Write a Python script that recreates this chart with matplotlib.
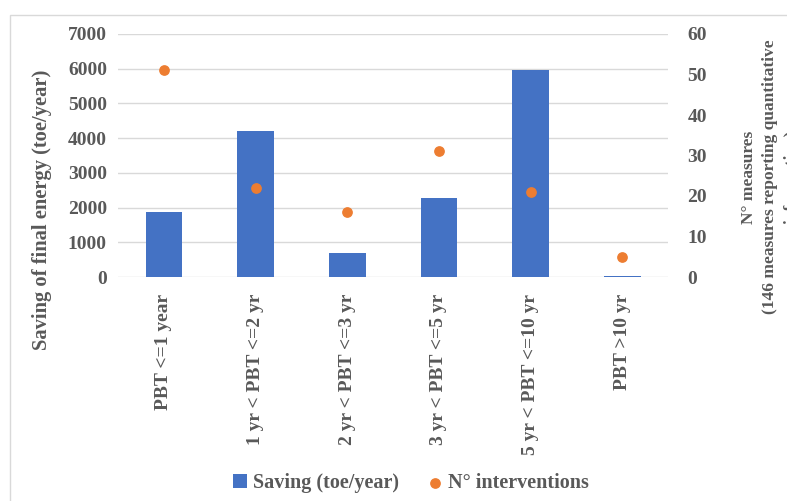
import matplotlib.pyplot as plt
from matplotlib.patches import Rectangle
import numpy as np

categories = ["PBT <=1 year", "1 yr < PBT <=2 yr", "2 yr < PBT <=3 yr",
              "3 yr < PBT <=5 yr", "5 yr < PBT <=10 yr", "PBT >10 yr"]
saving = [1870, 4200, 690, 2270, 5960, 30]
interventions = [51, 22, 16, 31, 21, 5]

left_ticks = [0, 1000, 2000, 3000, 4000, 5000, 6000, 7000]
right_ticks = [0, 10, 20, 30, 40, 50, 60]

plt.rcParams['font.family'] = 'Liberation Serif'
plt.rcParams['font.weight'] = 'bold'
grey = '#595959'
blue = '#4472C4'
orange = '#ED7D31'

fig = plt.figure(figsize=(7.87, 5.01), dpi=100)
fig.patches.append(Rectangle((10 / 787, -0.1), 1.2, 1 - 15 / 501 + 0.1,
                             transform=fig.transFigure, fill=False,
                             edgecolor='#d9d9d9', linewidth=1))

ax = fig.add_axes([118 / 787, 1 - 277 / 501, 550 / 787, 243 / 501])
x = np.arange(len(categories))
ax.bar(x, saving, width=0.4, color=blue, label='Saving (toe/year)', zorder=2)
ax.set_ylim(0, 7000)
ax.set_xlim(-0.5, len(categories) - 0.5)
ax.set_yticks(left_ticks)
ax.set_yticklabels([str(v) for v in left_ticks])
ax.set_xticks(x)
ax.set_xticklabels(categories, rotation=90)
ax.grid(axis='y', color='#d9d9d9', linewidth=1, zorder=0)
for s in ax.spines.values():
    s.set_visible(False)
ax.tick_params(length=0, labelsize=14, labelcolor=grey, pad=8)
ax.tick_params(axis='x', pad=12)

ax2 = ax.twinx()
ax2.scatter(x, interventions, s=45, color=orange, label='N° interventions', zorder=3)
ax2.set_ylim(0, 60)
ax2.set_yticks(right_ticks)
ax2.set_yticklabels([str(v) for v in right_ticks])
for s in ax2.spines.values():
    s.set_visible(False)
ax2.tick_params(length=0, labelsize=14, labelcolor=grey, pad=14)

fig.text(42 / 787, 1 - 210 / 501, 'Saving of final energy (toe/year)',
         rotation=90, ha='center', va='center', fontsize=14.8, color=grey)
fig.text(770 / 787, 1 - 177 / 501,
         'N° measures\n(146 measures reporting quantitative\ninformation)',
         rotation=90, ha='center', va='center', fontsize=12.5, color=grey,
         linespacing=1.45)

h1, l1 = ax.get_legend_handles_labels()
h2, l2 = ax2.get_legend_handles_labels()
fig.legend(h1 + h2, l1 + l2, loc='center', bbox_to_anchor=(411 / 787, 1 - 483 / 501),
           ncol=2, frameon=False, fontsize=14.5, labelcolor=grey,
           handlelength=0.7, handletextpad=0.3, columnspacing=1.4)

fig.savefig('out.png', dpi=100)
